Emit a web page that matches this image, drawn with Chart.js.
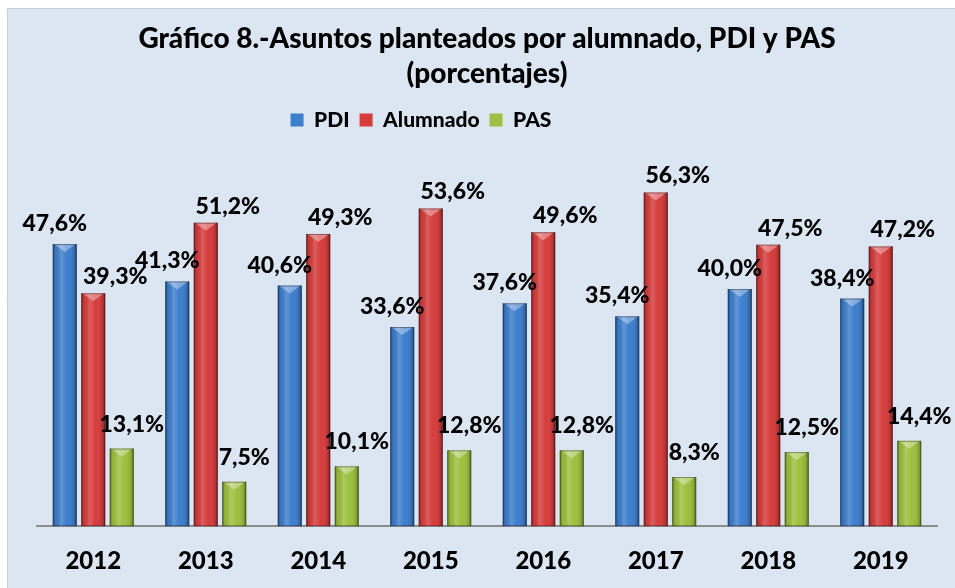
<!DOCTYPE html>
<html>
<head>
<meta charset="UTF-8">
<title>Gráfico 8</title>
<style>
  body { margin: 0; background: #ffffff; }
  #wrap { position: absolute; left: 0; top: 0; width: 955px; height: 588px; }
</style>
</head>
<body>
<div id="wrap"><canvas id="myChart"></canvas></div>
<script src="https://cdn.jsdelivr.net/npm/chart.js@4.4.0/dist/chart.umd.min.js"></script>
<script>
// datos
var years = ['2012', '2013', '2014', '2015', '2016', '2017', '2018', '2019'];
var pdi = [47.6, 41.3, 40.6, 33.6, 37.6, 35.4, 40.0, 38.4];
var alumnado = [39.3, 51.2, 49.3, 53.6, 49.6, 56.3, 47.5, 47.2];
var pas = [13.1, 7.5, 10.1, 12.8, 12.8, 8.3, 12.5, 14.4];

var FONT = 'Lato, "Open Sans", sans-serif';

// fondo del panel
var panelBg = {
  id: 'panelBg',
  beforeDraw: function (chart) {
    var c = chart.ctx;
    c.save();
    c.fillStyle = '#dce6f2';
    c.fillRect(7, 8, chart.width - 7, chart.height - 8);
    c.strokeStyle = '#c3cddb';
    c.lineWidth = 1;
    c.beginPath();
    c.moveTo(7.5, chart.height);
    c.lineTo(7.5, 8.5);
    c.lineTo(chart.width, 8.5);
    c.stroke();
    c.restore();
  }
};

// mas espacio bajo la leyenda y leyenda desplazada a la izquierda
var legendTweak = {
  id: 'legendTweak',
  beforeInit: function (chart) {
    var fit = chart.legend.fit;
    chart.legend.fit = function () {
      fit.call(this);
      this.height += 30;
    };
  },
  afterLayout: function (chart) {
    chart.legend.left -= 66;
    chart.legend.right -= 66;
  }
};

// sombreado tipo cilindro sobre las barras
var barShade = {
  id: 'barShade',
  afterDatasetsDraw: function (chart) {
    var c = chart.ctx;
    chart.data.datasets.forEach(function (ds, di) {
      chart.getDatasetMeta(di).data.forEach(function (bar) {
        var w = bar.width, l = bar.x - w / 2, r = bar.x + w / 2, t = bar.y, b = bar.base;
        c.save();
        var g = c.createLinearGradient(l, 0, r, 0);
        g.addColorStop(0, 'rgba(0,0,0,0.35)');
        g.addColorStop(0.12, 'rgba(0,0,0,0.05)');
        g.addColorStop(0.35, 'rgba(255,255,255,0.18)');
        g.addColorStop(0.6, 'rgba(255,255,255,0.0)');
        g.addColorStop(0.88, 'rgba(0,0,0,0.12)');
        g.addColorStop(1, 'rgba(0,0,0,0.4)');
        c.fillStyle = g;
        c.fillRect(l, t, w, b - t);
        // bisel superior
        c.fillStyle = 'rgba(255,255,255,0.35)';
        c.beginPath();
        c.moveTo(l + 1, t);
        c.lineTo(r - 1, t);
        c.lineTo(bar.x, t + 8);
        c.closePath();
        c.fill();
        c.strokeStyle = 'rgba(0,0,0,0.35)';
        c.lineWidth = 1;
        c.strokeRect(l + 0.5, t + 0.5, w - 1, b - t - 1);
        c.restore();
      });
    });
  }
};

// etiquetas de datos
var dx = [-10, 22, 10];
var gap = [13, 9, 17];
var dataLabels = {
  id: 'dataLabels',
  afterDraw: function (chart) {
    var c = chart.ctx;
    c.save();
    c.font = '900 23px ' + FONT;
    c.fillStyle = '#000000';
    c.textAlign = 'center';
    c.textBaseline = 'alphabetic';
    chart.data.datasets.forEach(function (ds, di) {
      chart.getDatasetMeta(di).data.forEach(function (bar, i) {
        var txt = ds.data[i].toFixed(1).replace('.', ',') + '%';
        c.fillText(txt, bar.x + dx[di], bar.y - gap[di]);
      });
    });
    c.restore();
  }
};

var ctx = document.getElementById('myChart').getContext('2d');
var chart = new Chart(ctx, {
  type: 'bar',
  data: {
    labels: years,
    datasets: [
      { label: 'PDI', data: pdi, backgroundColor: '#3d7ecd' },
      { label: 'Alumnado', data: alumnado, backgroundColor: '#d63c3c' },
      { label: 'PAS', data: pas, backgroundColor: '#9dc03e' }
    ]
  },
  options: {
    responsive: true,
    maintainAspectRatio: false,
    animation: false,
    datasets: {
      bar: { categoryPercentage: 0.76, barPercentage: 0.84 }
    },
    layout: { padding: { left: 37, right: 18, top: 21, bottom: -9 } },
    plugins: {
      tooltip: { enabled: false },
      title: {
        display: true,
        text: ['Gráfico 8.-Asuntos planteados por alumnado, PDI y PAS', '(porcentajes)'],
        color: '#000000',
        font: { family: FONT, size: 28, weight: '900', lineHeight: 1.26 },
        padding: { top: 0, bottom: 8 }
      },
      legend: {
        display: true,
        labels: {
          color: '#000000',
          font: { family: FONT, size: 21, weight: '900' },
          boxWidth: 13,
          boxHeight: 13,
          padding: 10
        }
      }
    },
    scales: {
      x: {
        grid: { display: false, drawTicks: false },
        border: { display: true, color: '#8c8c8c', width: 2 },
        ticks: {
          color: '#000000',
          font: { family: FONT, size: 24, weight: '900' },
          padding: 21
        }
      },
      y: {
        display: false,
        min: 0,
        max: 60
      }
    }
  },
  plugins: [panelBg, legendTweak, barShade, dataLabels]
});
</script>
</body>
</html>
